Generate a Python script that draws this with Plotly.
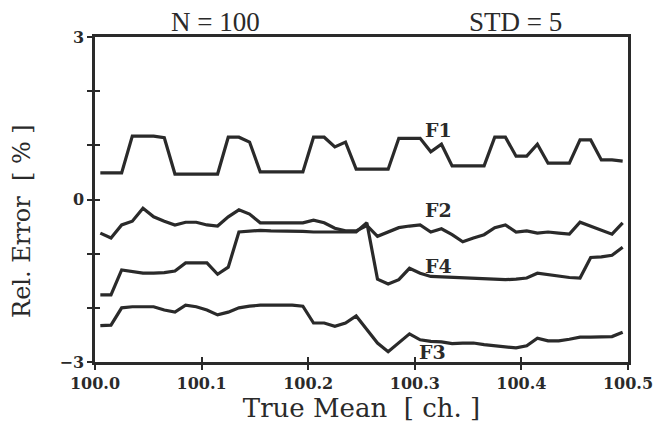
import plotly.graph_objects as go

true_mean = [100.005, 100.015, 100.025, 100.035, 100.045, 100.055, 100.065, 100.075, 100.085, 100.095,
             100.105, 100.115, 100.125, 100.135, 100.145, 100.155, 100.165, 100.175, 100.185, 100.195,
             100.205, 100.215, 100.225, 100.235, 100.245, 100.255, 100.265, 100.275, 100.285, 100.295,
             100.305, 100.315, 100.325, 100.335, 100.345, 100.355, 100.365, 100.375, 100.385, 100.395,
             100.405, 100.415, 100.425, 100.435, 100.445, 100.455, 100.465, 100.475, 100.485, 100.495]

F1 = [0.49, 0.49, 0.49, 1.17, 1.17, 1.17, 1.14, 0.47, 0.47, 0.47,
      0.47, 0.47, 1.15, 1.15, 1.06, 0.51, 0.51, 0.51, 0.51, 0.51,
      1.15, 1.15, 0.97, 1.06, 0.56, 0.56, 0.56, 0.56, 1.13, 1.13,
      1.13, 0.88, 1.02, 0.62, 0.62, 0.62, 0.62, 1.15, 1.15, 0.80,
      0.80, 1.02, 0.67, 0.67, 0.67, 1.10, 1.10, 0.73, 0.73, 0.71]

F2 = [-0.62, -0.71, -0.47, -0.40, -0.16, -0.32, -0.40, -0.47, -0.42, -0.42,
      -0.47, -0.49, -0.32, -0.19, -0.27, -0.43, -0.43, -0.43, -0.43, -0.43,
      -0.38, -0.43, -0.53, -0.58, -0.58, -0.48, -0.68, -0.60, -0.52, -0.49,
      -0.47, -0.60, -0.54, -0.65, -0.78, -0.71, -0.65, -0.52, -0.47, -0.60,
      -0.58, -0.62, -0.60, -0.62, -0.64, -0.42, -0.49, -0.56, -0.64, -0.43]

F4 = [-1.76, -1.76, -1.30, -1.33, -1.36, -1.36, -1.35, -1.32, -1.17, -1.17,
      -1.17, -1.38, -1.25, -0.60, -0.58, -0.57, -0.58, -0.58, -0.59, -0.59,
      -0.60, -0.60, -0.60, -0.61, -0.60, -0.43, -1.47, -1.56, -1.48, -1.27,
      -1.36, -1.42, -1.43, -1.43, -1.44, -1.45, -1.46, -1.47, -1.48, -1.47,
      -1.45, -1.36, -1.39, -1.41, -1.44, -1.45, -1.07, -1.06, -1.03, -0.88]

F3 = [-2.33, -2.32, -2.00, -1.98, -1.98, -1.98, -2.04, -2.08, -1.95, -1.98,
      -2.04, -2.13, -2.08, -2.00, -1.97, -1.95, -1.95, -1.95, -1.95, -1.97,
      -2.28, -2.28, -2.34, -2.28, -2.15, -2.40, -2.65, -2.81, -2.65, -2.48,
      -2.59, -2.62, -2.63, -2.66, -2.65, -2.65, -2.68, -2.70, -2.72, -2.74,
      -2.70, -2.56, -2.61, -2.61, -2.58, -2.54, -2.54, -2.54, -2.53, -2.45]

series = {"F1": F1, "F2": F2, "F4": F4, "F3": F3}
curve_labels = ["F1", "F2", "F4", "F3"]
label_x = [100.322, 100.322, 100.322, 100.317]
label_y = [1.28, -0.19, -1.22, -2.81]

x_ticks = [100.0, 100.1, 100.2, 100.3, 100.4, 100.5]
x_ticktext = ["100.0", "100.1", "100.2", "100.3", "100.4", "100.5"]
y_ticks = [-3, -2, -1, 0, 1, 2, 3]
y_ticktext = ["\u22123", "", "", "0", "", "", "3"]

INK = "#2a2a2a"
fig = go.Figure()
for name, vals in series.items():
    fig.add_trace(go.Scatter(x=true_mean, y=vals, mode="lines", name=name,
                             line=dict(color=INK, width=3.2), showlegend=False))

# invisible trace on secondary axes for inward tick halves
fig.add_trace(go.Scatter(x=[100.0], y=[0], xaxis="x2", yaxis="y2", mode="markers",
                         marker=dict(opacity=0), showlegend=False, hoverinfo="skip"))

for lab, lx, ly in zip(curve_labels, label_x, label_y):
    fig.add_annotation(x=lx, y=ly, text=lab, showarrow=False,
                       font=dict(family="DejaVu Serif", size=19, color=INK, weight="bold"))

fig.add_annotation(xref="paper", yref="paper", x=0.227, y=1.046, text="N = 100", showarrow=False,
                   xanchor="center", yanchor="middle",
                   font=dict(family="Liberation Serif", size=27, color=INK))
fig.add_annotation(xref="paper", yref="paper", x=0.788, y=1.046, text="STD = 5", showarrow=False,
                   xanchor="center", yanchor="middle",
                   font=dict(family="Liberation Serif", size=27, color=INK))
fig.add_annotation(xref="paper", yref="paper", x=-0.137, y=0.434, text="Rel. Error  [ % ]",
                   showarrow=False, textangle=-90, xanchor="center", yanchor="middle",
                   font=dict(family="DejaVu Serif", size=24, color=INK))

axis_common = dict(showgrid=False, zeroline=False, linecolor=INK, linewidth=2.5,
                   tickcolor=INK, tickwidth=2, automargin=False)
fig.update_layout(
    width=654, height=424,
    margin=dict(l=87, r=34, t=29, b=70),
    paper_bgcolor="white", plot_bgcolor="white",
    xaxis=dict(range=[100.0, 100.5], tickvals=x_ticks, ticktext=x_ticktext,
               ticks="outside", ticklen=5, mirror=True, showline=True,
               tickfont=dict(family="DejaVu Serif", size=16, color=INK, weight="bold"),
               title=dict(text="True Mean  [ ch. ]", standoff=2,
                          font=dict(family="DejaVu Serif", size=26, color=INK)),
               **axis_common),
    yaxis=dict(range=[-3, 3], tickvals=y_ticks, ticktext=y_ticktext,
               ticks="outside", ticklen=5, mirror=True, showline=True,
               tickfont=dict(family="DejaVu Serif", size=16, color=INK, weight="bold"),
               **axis_common),
    xaxis2=dict(range=[100.0, 100.5], tickvals=x_ticks, ticks="inside", ticklen=5,
                showticklabels=False, overlaying="x", anchor="y2", side="bottom",
                showline=False, showgrid=False, zeroline=False, tickcolor=INK, tickwidth=2),
    yaxis2=dict(range=[-3, 3], tickvals=y_ticks, ticks="inside", ticklen=5,
                showticklabels=False, overlaying="y", anchor="x2", side="left",
                showline=False, showgrid=False, zeroline=False, tickcolor=INK, tickwidth=2),
)

fig.write_html("out.html")
